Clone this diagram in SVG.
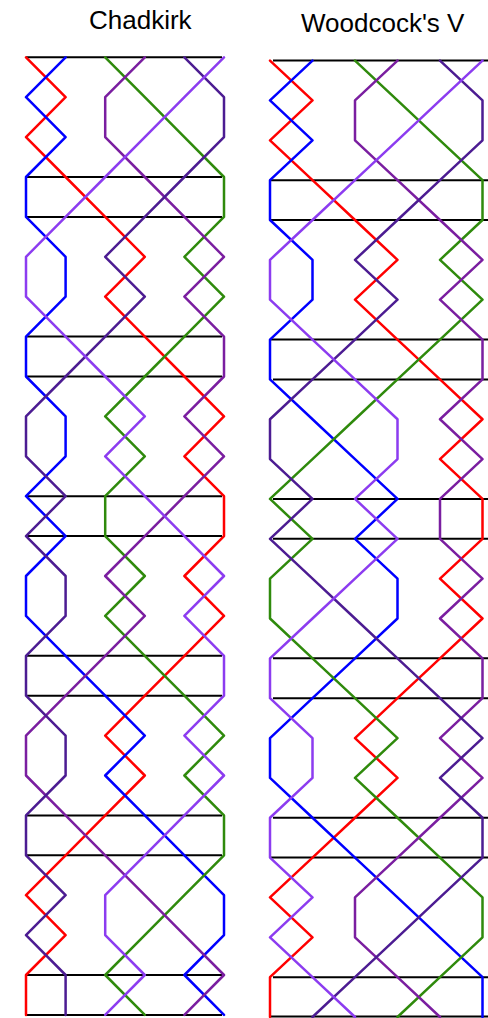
<svg xmlns="http://www.w3.org/2000/svg" width="488" height="1018" viewBox="0 0 488 1018">
<style>
.t{font-family:"Liberation Sans",Arial,sans-serif;font-size:26px;fill:#000}
.h{stroke:#000;stroke-width:2;fill:none}
polyline{fill:none;stroke-width:2.5;vector-effect:non-scaling-stroke;stroke-linejoin:round;stroke-linecap:round}
.r{stroke:#ff0000}.b{stroke:#0000ff}.g{stroke:#2f8a0c}.p{stroke:#7a1ea0}.i{stroke:#4c1c92}.v{stroke:#8c3cf0}
</style>
<rect width="488" height="1018" fill="#fff"/>
<text class="t" x="89" y="29">Chadkirk</text>
<text class="t" x="301" y="32">Woodcock's V</text>
<g id="chadkirk">
<g id="chadkirk-leads" class="h">
<line x1="26" y1="57.3" x2="222" y2="57.3"/>
<line x1="26" y1="177" x2="222" y2="177"/>
<line x1="26" y1="216.9" x2="222" y2="216.9"/>
<line x1="26" y1="336.6" x2="222" y2="336.6"/>
<line x1="26" y1="376.5" x2="222" y2="376.5"/>
<line x1="26" y1="496.2" x2="222" y2="496.2"/>
<line x1="26" y1="536.1" x2="222" y2="536.1"/>
<line x1="26" y1="655.8" x2="222" y2="655.8"/>
<line x1="26" y1="695.7" x2="222" y2="695.7"/>
<line x1="26" y1="815.4" x2="222" y2="815.4"/>
<line x1="26" y1="855.3" x2="222" y2="855.3"/>
<line x1="26" y1="975" x2="222" y2="975"/>
<line x1="26" y1="1014.9" x2="222" y2="1014.9"/>
</g>
<g id="chadkirk-lines" transform="translate(26,57.3) scale(39.6,39.9)">
<polyline class="r" points="0,0 1,1 0,2 1,3 2,4 3,5 2,6 3,7 4,8 5,9 4,10 5,11 5,12 4,13 5,14 4,15 3,16 2,17 3,18 2,19 1,20 0,21 1,22 0,23 0,24"/>
<polyline class="b" points="1,0 0,1 1,2 0,3 0,4 1,5 1,6 0,7 0,8 1,9 1,10 0,11 1,12 0,13 0,14 1,15 2,16 3,17 2,18 3,19 4,20 5,21 5,22 4,23 5,24"/>
<polyline class="g" points="2,0 3,1 4,2 5,3 5,4 4,5 5,6 4,7 3,8 2,9 3,10 2,11 2,12 3,13 2,14 3,15 4,16 5,17 4,18 5,19 5,20 4,21 3,22 2,23 3,24"/>
<polyline class="p" points="3,0 2,1 2,2 3,3 4,4 5,5 4,6 5,7 5,8 4,9 5,10 4,11 3,12 2,13 3,14 2,15 1,16 0,17 0,18 1,19 2,20 3,21 4,22 5,23 4,24"/>
<polyline class="i" points="4,0 5,1 5,2 4,3 3,4 2,5 3,6 2,7 1,8 0,9 0,10 1,11 0,12 1,13 1,14 0,15 0,16 1,17 1,18 0,19 0,20 1,21 0,22 1,23 1,24"/>
<polyline class="v" points="5,0 4,1 3,2 2,3 1,4 0,5 0,6 1,7 2,8 3,9 2,10 3,11 4,12 5,13 4,14 5,15 5,16 4,17 5,18 4,19 3,20 2,21 2,22 3,23 2,24"/>
</g>
</g>
<g id="woodcocks-v">
<g id="woodcock-leads" class="h">
<line x1="273" y1="60.6" x2="488" y2="60.6"/>
<line x1="271" y1="180.15" x2="488" y2="180.15"/>
<line x1="271" y1="220" x2="488" y2="220"/>
<line x1="271" y1="339.55" x2="488" y2="339.55"/>
<line x1="273" y1="379.4" x2="488" y2="379.4"/>
<line x1="273" y1="498.95" x2="488" y2="498.95"/>
<line x1="273" y1="538.8" x2="488" y2="538.8"/>
<line x1="273" y1="658.35" x2="488" y2="658.35"/>
<line x1="273" y1="698.2" x2="488" y2="698.2"/>
<line x1="273" y1="817.75" x2="488" y2="817.75"/>
<line x1="271" y1="857.6" x2="488" y2="857.6"/>
<line x1="273" y1="977.15" x2="488" y2="977.15"/>
<line x1="270" y1="1016.5" x2="488" y2="1016.5"/>
</g>
<g id="woodcock-lines" transform="translate(270,60.6) scale(42.5,39.85)">
<polyline class="r" points="0,0 1,1 0,2 1,3 2,4 3,5 2,6 3,7 4,8 5,9 4,10 5,11 5,12 4,13 5,14 4,15 3,16 2,17 3,18 2,19 1,20 0,21 1,22 0,23 0,24"/>
<polyline class="b" points="1,0 0,1 1,2 0,3 0,4 1,5 1,6 0,7 0,8 1,9 2,10 3,11 2,12 3,13 3,14 2,15 1,16 0,17 0,18 1,19 2,20 3,21 4,22 5,23 5,24"/>
<polyline class="g" points="2,0 3,1 4,2 5,3 5,4 4,5 5,6 4,7 3,8 2,9 1,10 0,11 1,12 0,13 0,14 1,15 2,16 3,17 2,18 3,19 4,20 5,21 5,22 4,23 3,24"/>
<polyline class="p" points="3,0 2,1 2,2 3,3 4,4 5,5 4,6 5,7 5,8 4,9 5,10 4,11 4,12 5,13 4,14 5,15 5,16 4,17 5,18 4,19 3,20 2,21 2,22 3,23 4,24"/>
<polyline class="i" points="4,0 5,1 5,2 4,3 3,4 2,5 3,6 2,7 1,8 0,9 0,10 1,11 0,12 1,13 2,14 3,15 4,16 5,17 4,18 5,19 5,20 4,21 3,22 2,23 1,24"/>
<polyline class="v" points="5,0 4,1 3,2 2,3 1,4 0,5 0,6 1,7 2,8 3,9 3,10 2,11 3,12 2,13 1,14 0,15 0,16 1,17 1,18 0,19 0,20 1,21 0,22 1,23 2,24"/>
</g>
</g>
</svg>
